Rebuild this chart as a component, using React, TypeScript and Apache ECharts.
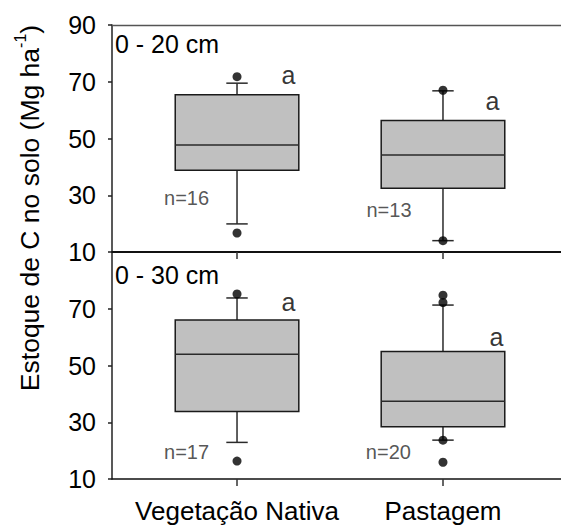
import React, { useEffect, useRef } from "react";
import * as echarts from "echarts";

// ---- data ----
const categories = ["Vegetação Nativa", "Pastagem"];
const categoryPos = [1, 2];
const yTicks = [10, 30, 50, 70, 90];
const panelTitles = ["0 - 20 cm", "0 - 30 cm"];

// [lowerWhisker, Q1, median, Q3, upperWhisker]
const stats0to20 = [
  [19.9, 38.8, 47.7, 65.4, 69.5],
  [14.0, 32.5, 44.2, 56.3, 66.8],
];
const stats0to30 = [
  [22.9, 33.8, 54.0, 66.0, 73.8],
  [23.7, 28.4, 37.4, 54.9, 71.3],
];
const outliers0to20 = [
  [1, 71.8], [1, 16.7], [2, 67.0], [2, 14.0],
];
const outliers0to30 = [
  [1, 75.2], [1, 16.3], [2, 74.8], [2, 72.2], [2, 23.7], [2, 15.9],
];
const letters0to20 = ["a", "a"];
const letters0to30 = ["a", "a"];
const n0to20 = [16, 13];
const n0to30 = [17, 20];

// annotation anchor positions (data coords)
const letterPos0to20 = [[1.25, 72.4], [2.24, 63.2]];
const letterPos0to30 = [[1.25, 72.4], [2.26, 60.0]];
const nPos0to20 = [[0.755, 29.0], [1.738, 24.8]];
const nPos0to30 = [[0.755, 19.5], [1.735, 19.5]];

const FONT = "'Liberation Sans', Arial, sans-serif";
const X_MIN = 0.393;
const X_MAX = 2.573;
const BOX_HALF = 0.3;
const CAP_HALF = 0.052;

function boxRender(params: any, api: any) {
  const x = api.value(0);
  const lo = api.value(1), q1 = api.value(2), med = api.value(3), q3 = api.value(4), hi = api.value(5);
  const unit = api.size([1, 0])[0];
  const bh = unit * BOX_HALF;
  const ch = unit * CAP_HALF;
  const pLo = api.coord([x, lo]);
  const pQ1 = api.coord([x, q1]);
  const pMed = api.coord([x, med]);
  const pQ3 = api.coord([x, q3]);
  const pHi = api.coord([x, hi]);
  const cx = pMed[0];
  const lineStyle = { stroke: "#2a2a2a", lineWidth: 1.5 };
  return {
    type: "group",
    children: [
      { type: "line", shape: { x1: cx, y1: pQ3[1], x2: cx, y2: pHi[1] }, style: lineStyle },
      { type: "line", shape: { x1: cx - ch, y1: pHi[1], x2: cx + ch, y2: pHi[1] }, style: lineStyle },
      { type: "line", shape: { x1: cx, y1: pQ1[1], x2: cx, y2: pLo[1] }, style: lineStyle },
      { type: "line", shape: { x1: cx - ch, y1: pLo[1], x2: cx + ch, y2: pLo[1] }, style: lineStyle },
      {
        type: "rect",
        shape: { x: cx - bh, y: pQ3[1], width: bh * 2, height: pQ1[1] - pQ3[1] },
        style: { fill: "#c0c0c0", stroke: "#1a1a1a", lineWidth: 1.5 },
      },
      { type: "line", shape: { x1: cx - bh, y1: pMed[1], x2: cx + bh, y2: pMed[1] }, style: lineStyle },
    ],
  };
}

function annotData(letters: string[], lpos: number[][], ns: number[], npos: number[][]) {
  const out: any[] = [];
  letters.forEach((l, i) => {
    out.push({ name: l, value: lpos[i], label: { fontSize: 25, color: "#000" } });
  });
  ns.forEach((n, i) => {
    out.push({ name: "n=" + n, value: npos[i], label: { fontSize: 20, color: "#2a2a2a" } });
  });
  return out;
}

export default function App() {
  const ref = useRef<HTMLDivElement>(null);
  useEffect(() => {
    if (!ref.current) return;
    const chart = echarts.init(ref.current, undefined, { renderer: "svg" });
    const grids = [
      { left: 112, top: 25, width: 449, height: 227, outerBoundsMode: "none", containLabel: false },
      { left: 112, top: 252, width: 449, height: 227, outerBoundsMode: "none", containLabel: false },
    ];
    const yAxisBase = (gridIndex: number) => ({
      type: "value",
      gridIndex,
      min: 10,
      max: 90,
      interval: 20,
      axisLine: { show: true, lineStyle: { color: "#222", width: 1.5 } },
      axisTick: { show: true, inside: false, length: 4, lineStyle: { color: "#222", width: 1.5 } },
      axisLabel: {
        show: true,
        margin: 16,
        fontSize: 25,
        fontFamily: FONT,
        color: "#000",
        showMaxLabel: gridIndex === 0,
        formatter: (v: number) => (yTicks.includes(v) ? String(v) : ""),
      },
      splitLine: { show: false },
    });
    const xAxisBase = (gridIndex: number, showLabel: boolean) => ({
      type: "value",
      gridIndex,
      position: "bottom",
      min: X_MIN,
      max: X_MAX,
      axisLine: { show: true, onZero: false, lineStyle: { color: "#111", width: gridIndex === 0 ? 2 : 1.6 } },
      axisTick: { show: true, length: 7, customValues: categoryPos, lineStyle: { color: "#333", width: 1.5 } },
      axisLabel: {
        show: showLabel,
        customValues: categoryPos,
        margin: 19,
        fontSize: 26,
        fontFamily: FONT,
        color: "#000",
        formatter: (v: number) => categories[Math.round(v) - 1] ?? "",
      },
      splitLine: { show: false },
    });
    const option: any = {
      animation: false,
      textStyle: { fontFamily: FONT },
      grid: grids,
      xAxis: [
        xAxisBase(0, false),
        xAxisBase(1, true),
        {
          type: "value",
          gridIndex: 0,
          position: "top",
          min: X_MIN,
          max: X_MAX,
          axisLine: { show: true, onZero: false, lineStyle: { color: "#555", width: 1.3 } },
          axisTick: { show: false },
          axisLabel: { show: false },
          splitLine: { show: false },
        },
      ],
      yAxis: [yAxisBase(0), yAxisBase(1)],
      series: [
        {
          type: "custom",
          xAxisIndex: 0,
          yAxisIndex: 0,
          renderItem: boxRender,
          encode: { x: 0, y: [1, 2, 3, 4, 5] },
          data: stats0to20.map((s, i) => [categoryPos[i], ...s]),
          silent: true,
        },
        {
          type: "custom",
          xAxisIndex: 1,
          yAxisIndex: 1,
          renderItem: boxRender,
          encode: { x: 0, y: [1, 2, 3, 4, 5] },
          data: stats0to30.map((s, i) => [categoryPos[i], ...s]),
          silent: true,
        },
        {
          type: "scatter",
          xAxisIndex: 0,
          yAxisIndex: 0,
          symbol: "circle",
          symbolSize: 9,
          itemStyle: { color: "#000" },
          data: outliers0to20,
          silent: true,
          z: 5,
        },
        {
          type: "scatter",
          xAxisIndex: 1,
          yAxisIndex: 1,
          symbol: "circle",
          symbolSize: 9,
          itemStyle: { color: "#000" },
          data: outliers0to30,
          silent: true,
          z: 5,
        },
        {
          type: "scatter",
          xAxisIndex: 0,
          yAxisIndex: 0,
          symbolSize: 0,
          itemStyle: { color: "transparent" },
          label: { show: true, position: "inside", formatter: "{b}", fontFamily: FONT },
          data: annotData(letters0to20, letterPos0to20, n0to20, nPos0to20),
          silent: true,
        },
        {
          type: "scatter",
          xAxisIndex: 1,
          yAxisIndex: 1,
          symbolSize: 0,
          itemStyle: { color: "transparent" },
          label: { show: true, position: "inside", formatter: "{b}", fontFamily: FONT },
          data: annotData(letters0to30, letterPos0to30, n0to30, nPos0to30),
          silent: true,
        },
      ],
      graphic: [
        {
          type: "text",
          left: 115,
          top: 31,
          style: { text: panelTitles[0], fontSize: 25, fontFamily: FONT, fill: "#000" },
        },
        {
          type: "text",
          left: 115,
          top: 262,
          style: { text: panelTitles[1], fontSize: 25, fontFamily: FONT, fill: "#000" },
        },
        {
          type: "text",
          x: 28,
          y: 208,
          rotation: Math.PI / 2,
          style: {
            text: "{n|Estoque de C no solo (Mg ha}{s|-1}{n|)}",
            align: "center",
            verticalAlign: "middle",
            fill: "#000",
            rich: {
              n: { fontSize: 26.5, fontFamily: FONT, fill: "#000", lineHeight: 31, verticalAlign: "bottom" },
              s: { fontSize: 16, fontFamily: FONT, fill: "#000", lineHeight: 31, verticalAlign: "top" },
            },
          },
        },
      ],
    };
    chart.setOption(option);
    return () => chart.dispose();
  }, []);
  return (
    <div
      ref={ref}
      style={{ position: "absolute", left: 0, top: 0, width: 561, height: 526 }}
    />
  );
}
